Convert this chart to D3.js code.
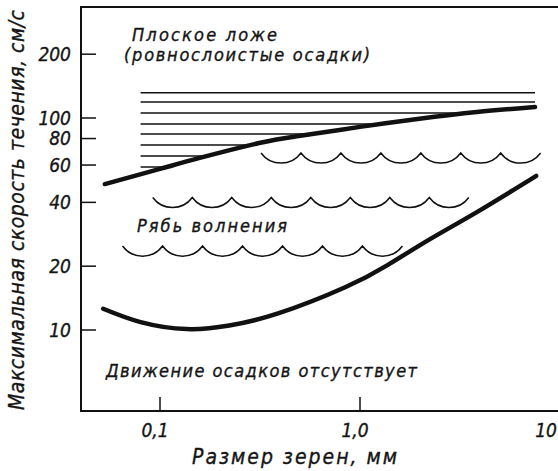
<html>
<head>
<meta charset="utf-8">
<title>Скорость течения и размер зерен</title>
<style>
body { margin: 0; background: #fff; }
text {
  font-family: 'DejaVu Sans Condensed', 'Liberation Sans Narrow', 'DejaVu Sans', sans-serif;
  font-style: italic;
  fill: #151515;
  stroke: #151515;
  stroke-width: 0.35px;
}
</style>
</head>
<body>
<div id="chart"></div>
<script src="https://d3js.org/d3.v7.min.js"></script>
<script>

// axis ticks
var grainTicks = [0.1, 1, 10];
var grainLabels = ["0,1", "1,0", "10"];
var velocityTicks = [10, 20, 40, 60, 80, 100, 200];
var velocityLabels = ["10", "20", "40", "60", "80", "100", "200"];

// upper boundary (ripples -> plane bed), grain mm / velocity cm/s
var upperGrain = [0.053, 0.1, 0.158, 0.313, 0.493, 1.0, 1.94, 3.84, 7.5];
var upperVelocity = [48.8, 57.5, 64.8, 76.2, 82.2, 90.8, 98.9, 106.7, 112.7];

// lower boundary (no movement -> ripples)
var lowerGrain = [0.052, 0.08, 0.136, 0.222, 0.393, 0.843, 1.38, 2.25, 3.84, 7.6];
var lowerVelocity = [12.6, 10.9, 10.1, 10.5, 12.0, 15.9, 20.3, 26.9, 36.0, 53.3];

// plane bed hatching
var hatchVelocity = [131.6, 119, 105.6, 93.7, 84.0, 74.6, 66.2, 58.7];
var hatchGrain = [0.08, 7.5];

// ripple rows
var rippleVelocity = [68.4, 42.2, 24.9];
var rippleFrom = [0.32, 0.092, 0.065];
var rippleTo = [8.0, 3.5, 1.63];
var rippleCount = [7, 8, 7];

var width = 558, height = 471;
var mLeft = 81, mTop = 7, mBottom = 411, mRight = 558;

var svg = d3.select("#chart").append("svg")
  .attr("width", width)
  .attr("height", height);

var x = d3.scaleLog().domain([0.1, 10]).range([160, 560]);
var y = d3.scaleLog().domain([10, 100]).range([330, 118]);

// frame: top, left and bottom sides
svg.append("path")
  .attr("d", "M" + mRight + "," + mTop + "H" + mLeft + "V" + mBottom + "H" + mRight)
  .attr("stroke", "#111")
  .attr("stroke-width", 2)
  .attr("fill", "none");

// y ticks
svg.selectAll(".ytick")
  .data(velocityTicks)
  .enter()
  .append("line")
  .attr("class", "ytick")
  .attr("x1", mLeft)
  .attr("x2", mLeft + 15)
  .attr("y1", function(d) { return y(d); })
  .attr("y2", function(d) { return y(d); })
  .attr("stroke", "#111")
  .attr("stroke-width", 1.5);

svg.selectAll(".ylabel")
  .data(velocityTicks)
  .enter()
  .append("text")
  .attr("class", "ylabel")
  .attr("x", 71)
  .attr("y", function(d) { return y(d); })
  .attr("dy", "0.36em")
  .attr("text-anchor", "end")
  .style("font-size", "19px")
  .text(function(d, i) { return velocityLabels[i]; });

// x ticks
svg.selectAll(".xtick")
  .data(grainTicks)
  .enter()
  .append("line")
  .attr("class", "xtick")
  .attr("x1", function(d) { return x(d); })
  .attr("x2", function(d) { return x(d); })
  .attr("y1", mBottom)
  .attr("y2", mBottom - 14)
  .attr("stroke", "#111")
  .attr("stroke-width", 1.5);

svg.selectAll(".xlabel")
  .data(grainTicks)
  .enter()
  .append("text")
  .attr("class", "xlabel")
  .attr("x", function(d) { return Math.min(x(d) - 5, width - 12); })
  .attr("y", 437)
  .attr("text-anchor", "middle")
  .style("font-size", "19px")
  .text(function(d, i) { return grainLabels[i]; });

// axis titles
svg.append("text")
  .attr("transform", "translate(24,210) rotate(-90)")
  .attr("text-anchor", "middle")
  .attr("textLength", 400)
  .attr("lengthAdjust", "spacing")
  .style("font-size", "21px")
  .text("Максимальная скорость течения, см/с");

svg.append("text")
  .attr("x", 192)
  .attr("y", 464)
  .attr("textLength", 205)
  .attr("lengthAdjust", "spacing")
  .style("font-size", "21px")
  .text("Размер зерен, мм");

var upper = upperGrain.map(function(g, i) { return [g, upperVelocity[i]]; });
var lower = lowerGrain.map(function(g, i) { return [g, lowerVelocity[i]]; });

var smooth = d3.curveNatural;

var line = d3.line()
  .x(function(d) { return x(d[0]); })
  .y(function(d) { return y(d[1]); })
  .curve(smooth);

// clip hatching to the region above the upper curve
var above = d3.area()
  .x(function(d) { return x(d[0]); })
  .y0(0)
  .y1(function(d) { return y(d[1]); })
  .curve(smooth);

svg.append("clipPath")
  .attr("id", "plane")
  .append("path")
  .attr("d", above(upper));

svg.append("g")
  .attr("clip-path", "url(#plane)")
  .selectAll("line")
  .data(hatchVelocity)
  .enter()
  .append("line")
  .attr("x1", x(hatchGrain[0]))
  .attr("x2", x(hatchGrain[1]))
  .attr("y1", function(d) { return y(d); })
  .attr("y2", function(d) { return y(d); })
  .attr("stroke", "#111")
  .attr("stroke-width", 1.6);

// ripple scallops
svg.selectAll(".ripple")
  .data(rippleVelocity)
  .enter()
  .append("path")
  .attr("class", "ripple")
  .attr("fill", "none")
  .attr("stroke", "#111")
  .attr("stroke-width", 1.5)
  .attr("d", function(v, i) {
    var x0 = x(rippleFrom[i]), x1 = x(rippleTo[i]);
    var n = rippleCount[i], w = (x1 - x0) / n, yc = y(v);
    var r = w * 0.62;
    var p = "M" + x0 + "," + yc;
    for (var k = 1; k <= n; k++) {
      p += "A" + r + "," + r + " 0 0 0 " + (x0 + k * w) + "," + yc;
    }
    return p;
  });

svg.append("path")
  .attr("d", line(upper))
  .attr("fill", "none")
  .attr("stroke", "#111")
  .attr("stroke-width", 4.5)
  .attr("stroke-linecap", "round");

svg.append("path")
  .attr("d", line(lower))
  .attr("fill", "none")
  .attr("stroke", "#111")
  .attr("stroke-width", 4.5)
  .attr("stroke-linecap", "round");

// region labels
var notes = [
  { t: "Плоское ложе", x: 132, y: 41, len: 145 },
  { t: "(ровнослоистые осадки)", x: 124, y: 61, len: 246 },
  { t: "Рябь волнения", x: 137, y: 232, len: 150 },
  { t: "Движение осадков отсутствует", x: 106, y: 377, len: 311 }
];

svg.selectAll(".note")
  .data(notes)
  .enter()
  .append("text")
  .attr("class", "note")
  .attr("x", function(d) { return d.x; })
  .attr("y", function(d) { return d.y; })
  .attr("textLength", function(d) { return d.len; })
  .attr("lengthAdjust", "spacing")
  .style("font-size", "18px")
  .text(function(d) { return d.t; });

</script>
</body>
</html>
